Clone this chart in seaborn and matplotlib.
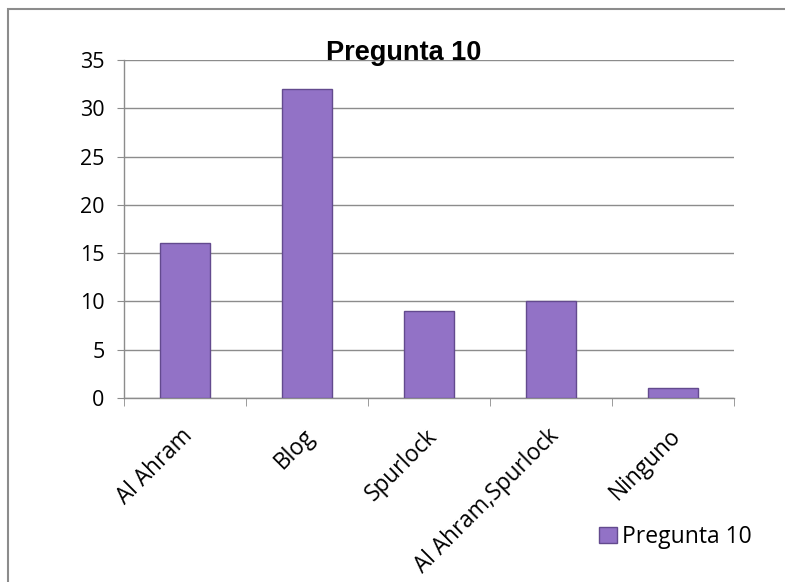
import numpy as np
import pandas as pd
import matplotlib.pyplot as plt
import matplotlib.patches as mpatches
import matplotlib.transforms as mtransforms
import seaborn as sns

# Data
categories = ['Al Ahram', 'Blog', 'Spurlock', 'Al Ahram,Spurlock', 'Ninguno']
values = [16, 32, 9, 10, 1]
series_name = 'Pregunta 10'

df = pd.DataFrame({'categoria': categories, 'valor': values})

sns.set_style('white')
plt.rcParams['font.family'] = ['Open Sans', 'DejaVu Sans']
plt.rcParams['text.color'] = 'black'
plt.rcParams['xtick.color'] = 'black'
plt.rcParams['ytick.color'] = 'black'

fig = plt.figure(figsize=(7.85, 5.82), dpi=100)
ax = fig.add_axes([124 / 785, 1 - 398 / 582, 610 / 785, 338 / 582])

# outer chart border (cropped on right/bottom)
fig.patches.append(mpatches.Rectangle((8 / 785, -0.05), 1.2, 1 - 9 / 582 + 0.05,
                                      transform=fig.transFigure, fill=False,
                                      edgecolor='#8c8c8c', linewidth=1.5))

sns.barplot(data=df, x='categoria', y='valor', color='#9272c6', width=0.41,
            edgecolor='#634a8e', linewidth=1.0, saturation=1, ax=ax, zorder=3)

ax.set_ylim(0, 35)
ax.set_xlim(-0.5, len(categories) - 0.5)
ax.set_yticks(np.arange(0, 36, 5))
ax.yaxis.grid(True, color='#8c8c8c', linewidth=1.0, zorder=0)
ax.set_axisbelow(True)
ax.set_xlabel('')
ax.set_ylabel('')

for side in ['top', 'right']:
    ax.spines[side].set_visible(False)
for side in ['left', 'bottom']:
    ax.spines[side].set_color('#8c8c8c')
    ax.spines[side].set_linewidth(1.0)

ax.tick_params(axis='y', labelsize=15.5, length=5, color='#8c8c8c', direction='out',
               left=True, pad=9)
ax.set_xticks(range(len(categories)))
ax.set_xticklabels(categories, rotation=45, ha='right', rotation_mode='anchor',
                   fontsize=16.3)
ax.tick_params(axis='x', length=0, pad=19)
shift = mtransforms.ScaledTranslation(-4 / 100, 0, fig.dpi_scale_trans)
for lbl in ax.get_xticklabels():
    lbl.set_transform(lbl.get_transform() + shift)
# x tick marks between categories
ax.set_xticks(np.arange(-0.5, len(categories), 1), minor=True)
ax.tick_params(axis='x', which='minor', length=6, color='#8c8c8c', bottom=True)

fig.text(404 / 785, 1 - 60 / 582, 'Pregunta 10', ha='center', va='baseline',
         fontsize=19.5, fontweight='bold', family=['Liberation Sans', 'DejaVu Sans'])

handle = mpatches.Patch(facecolor='#9272c6', edgecolor='#634a8e', label=series_name)
fig.legend(handles=[handle], loc='center left', bbox_to_anchor=(588 / 785, 1 - 537 / 582),
           frameon=False, handlelength=0.75, handleheight=0.75, handletextpad=0.25,
           borderpad=0, prop={'size': 16.5})

fig.savefig('out.png', dpi=100)
